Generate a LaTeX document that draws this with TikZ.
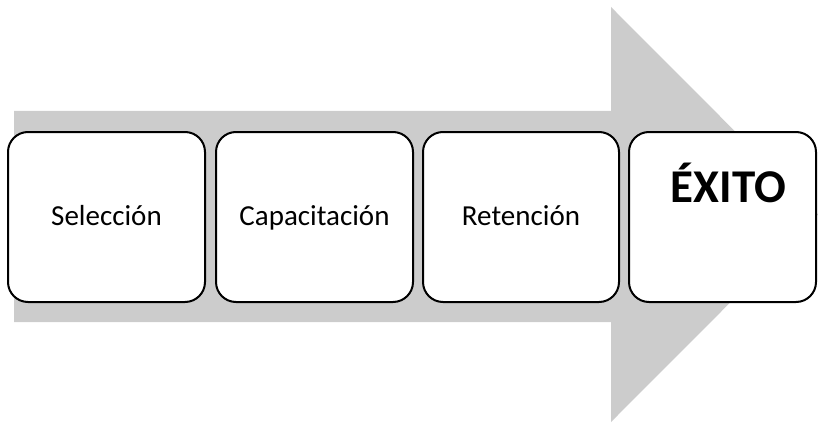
\documentclass[tikz,border=0pt]{standalone}
\usepackage{fontspec}
\setmainfont{Carlito}
\begin{document}
\begin{tikzpicture}[x=1pt,y=-1pt,
  stagebox/.style={draw=black,line width=2pt,fill=white,rounded corners=20pt,
    minimum height=170pt,inner sep=0pt,text height=22pt,text depth=6pt,
    font=\fontsize{29}{32}\selectfont},
  goalbox/.style={draw=black,line width=2pt,fill=white,rounded corners=20pt,
    minimum height=170pt,inner sep=0pt},
  goaltext/.style={font=\fontsize{47}{52}\bfseries\selectfont,inner sep=0pt}]
  \useasboundingbox (0,0) rectangle (818,425);
  % broad gray arrow behind the stages
  \fill[gray!40] (14,111) -- (611,111) -- (611,7) -- (818,214.5)
     -- (611,422) -- (611,322) -- (14,322) -- cycle;
  % stages
  \node[stagebox,minimum width=197pt] (sel) at (106.5,217) {Selección};
  \node[stagebox,minimum width=197pt] (cap) at (314.5,217) {Capacitación};
  \node[stagebox,minimum width=196pt] (ret) at (521,217) {Retención};
  \node[goalbox,minimum width=187pt] (goal) at (722.5,217) {};
  \node[goaltext,anchor=base] (goaltxt) at (728.5,202) {ÉXITO};
\end{tikzpicture}
\end{document}
